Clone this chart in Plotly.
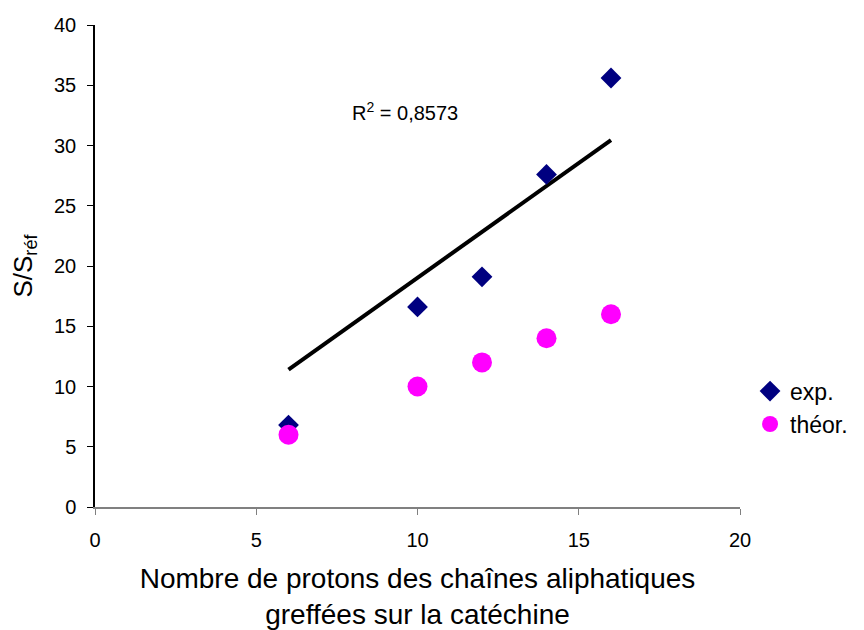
import plotly.graph_objects as go

x_vals = [6, 10, 12, 14, 16]
exp_vals = [6.8, 16.6, 19.1, 27.6, 35.6]
theor_vals = [6, 10, 12, 14, 16]
trend_x = [6, 16]
trend_y = [11.4, 30.45]
r2_text = "R<sup>2</sup> = 0,8573"

FONT = "Liberation Sans, Arial, sans-serif"

fig = go.Figure()
fig.add_trace(go.Scatter(x=trend_x, y=trend_y, mode="lines",
                         line=dict(color="black", width=4), showlegend=False,
                         hoverinfo="skip"))
fig.add_trace(go.Scatter(x=x_vals, y=exp_vals, mode="markers", name="exp.",
                         marker=dict(symbol="diamond", size=16, color="#000080")))
fig.add_trace(go.Scatter(x=x_vals, y=theor_vals, mode="markers", name="théor.",
                         marker=dict(symbol="circle", size=20, color="#FF00FF")))

fig.add_annotation(x=9.6, y=32.8, text=r2_text, showarrow=False,
                   font=dict(size=20, color="black", family=FONT))

fig.update_layout(
    width=856, height=622,
    margin=dict(l=87, r=123, t=17, b=123),
    paper_bgcolor="white", plot_bgcolor="white",
    font=dict(family=FONT, color="black", size=20),
    legend=dict(x=1.014, y=0.285, xanchor="left", yanchor="top",
                font=dict(size=23), bgcolor="rgba(0,0,0,0)",
                itemwidth=30, tracegroupgap=0),
    xaxis=dict(range=[0, 20], tickvals=[0, 5, 10, 15, 20], showgrid=False,
               zeroline=False, showline=True, linecolor="#808080", linewidth=1.5,
               ticks="outside", ticklen=6, tickcolor="#808080",
               tickfont=dict(size=20), automargin=False, ticklabelstandoff=8,
               title=dict(text="Nombre de protons des chaînes aliphatiques<br>greffées sur la catéchine",
                          font=dict(size=28), standoff=22)),
    yaxis=dict(range=[0, 40], tickvals=[0, 5, 10, 15, 20, 25, 30, 35, 40], showgrid=False,
               zeroline=False, showline=True, linecolor="black", linewidth=1.5,
               ticks="outside", ticklen=6, tickcolor="black",
               tickfont=dict(size=20), automargin=False, ticklabelstandoff=7,
               title=dict(text="S/S<sub>réf</sub>", font=dict(size=26), standoff=15)),
)

fig.write_html("out.html")
